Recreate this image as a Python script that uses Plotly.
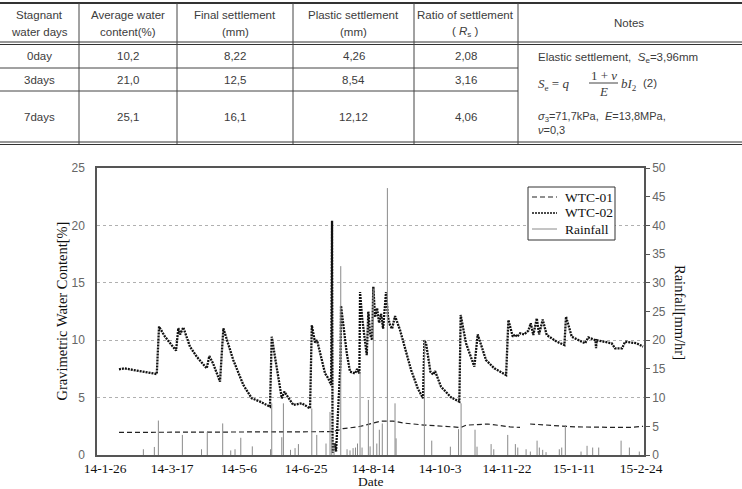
import plotly.graph_objects as go

# ---------------- table data ----------------
header_line1 = ["Stagnant", "Average water", "Final settlement", "Plastic settlement", "Ratio of settlement", "Notes"]
header_line2 = ["water days", "content(%)", "(mm)", "(mm)", "( <i>R</i><sub>s</sub> )", ""]
stagnant_days = ["0day", "3days", "7days"]
avg_water = ["10,2", "21,0", "25,1"]
final_settlement = ["8,22", "12,5", "16,1"]
plastic_settlement = ["4,26", "8,54", "12,12"]
ratio_settlement = ["2,08", "3,16", "4,06"]

# ---------------- chart data (x = days since 14-1-26) ----------------
tick_days = [0, 50, 100, 150, 200, 250, 300, 350, 400]
tick_labels = ["14-1-26", "14-3-17", "14-5-6", "14-6-25", "14-8-14", "14-10-3", "14-11-22", "15-1-11", "15-2-24"]

wtc02_day = [10.4, 14.2, 38.6, 40.3, 44.8, 53.0, 54.7, 56.0, 58.4, 63.4, 68.4, 75.9, 77.8, 80.6, 85.8,
             88.3, 95.7, 103.2, 109.5, 115.7, 123.1, 124.4, 127.6, 131.9, 133.8, 140.5, 146.8, 153.0,
             154.3, 156.7, 158.2, 164.2, 166.6, 168.7, 169.4, 169.8, 171.6, 172.4, 175.7, 176.1, 180.4,
             182.8, 186.6, 188.1, 189.8, 190.3, 191.8, 193.3, 195.3, 196.5, 197.8, 199.3, 200.2, 201.5,
             203.0, 204.5, 206.0, 207.5, 208.6, 209.7, 211.2, 212.7, 214.2, 216.4, 220.1, 223.1, 228.4,
             233.4, 237.3, 238.3, 239.6, 242.8, 244.8, 246.3, 250.7, 258.2, 264.4, 265.4, 269.4, 275.6,
             278.1, 284.3, 290.5, 299.3, 301.0, 304.3, 306.0, 307.5, 309.7, 312.7, 315.9, 317.7, 319.6,
             322.2, 323.9, 326.6, 329.6, 337.1, 342.8, 344.0, 348.3, 358.2, 360.7, 366.0, 366.4, 366.9,
             378.1, 380.6, 385.8, 388.1, 396.8, 401.5]
wtc02_val = [7.46, 7.55, 7.05, 11.18, 10.3, 9.09, 11.06, 10.5, 11.12, 9.43, 8.57, 7.55, 8.62, 7.98, 6.39,
             11.03, 8.27, 6.1, 4.94, 4.65, 4.21, 10.3, 7.98, 4.94, 5.52, 4.36, 4.5, 4.06,
             11.3, 9.8, 10.0, 7.1, 6.68, 6.1, 20.4, 0.2, 1.0, 0.3, 8.0, 13.0, 8.86,
             7.26, 7.1, 7.5, 7.1, 14.2, 12.0, 10.5, 8.7, 12.5, 10.5, 10.0, 14.66, 12.0,
             12.8, 11.5, 12.3, 11.0, 12.5, 14.2, 12.0, 11.3, 11.0, 12.1, 10.9, 9.7, 7.4,
             5.8, 4.94, 10.0, 9.7, 7.26, 7.0, 7.3, 5.95, 5.02, 4.65, 12.2, 9.73, 7.69,
             10.5, 8.27, 7.55, 6.97, 11.76, 10.3, 10.5, 10.3, 10.6, 10.5, 10.83, 11.47, 10.45,
             11.9, 10.5, 11.8, 10.45, 9.87, 9.58, 12.05, 10.3, 9.73, 10.25, 10.0, 9.3, 10.0,
             9.73, 9.29, 9.29, 9.87, 9.73, 9.44]

wtc01_day = [10.4, 167.9, 173.9, 177.6, 188.8, 200.0, 206.0, 214.9, 223.1, 238.1, 262.7, 265.7, 269.4,
             285.8, 302.2, 309.7, None, 317.2, 332.1, 350.7, 376.9, 391.8, 401.5]
wtc01_val = [1.97, 2.03, 2.15, 2.3, 2.45, 2.76, 2.95, 2.95, 2.78, 2.61, 2.47, 2.4, 2.6,
             2.7, 2.45, 2.4, None, 2.7, 2.6, 2.45, 2.41, 2.4, 2.5]

rain_day = [28.6, 36.8, 39.8, 57.7, 72.0, 76.3, 87.8, 93.8, 97.0, 101.3, 109.9, 123.5, 124.4, 131.9,
            133.1, 138.4, 141.8, 144.3, 154.3, 158.0, 164.9, 167.9, 169.2, 170.9, 175.9, 180.6, 182.8,
            185.1, 186.9, 188.4, 190.3, 191.8, 196.5, 197.8, 200.2, 202.8, 204.7, 206.9, 210.7, 216.4,
            217.2, 238.3, 243.8, 257.7, 263.8, 265.7, 276.1, 277.6, 288.1, 290.1, 300.5, 306.2, 308.0,
            314.2, 317.4, 322.4, 324.1, 326.6, 329.1, 339.0, 340.8, 343.5, 355.2, 359.7, 363.9, 368.4,
            385.1, 391.3, 398.7]
rain_val = [1.0, 1.4, 6.0, 3.5, 1.0, 4.0, 5.5, 0.8, 1.0, 3.0, 1.5, 1.0, 9.0, 3.1,
            9.0, 0.9, 1.2, 1.9, 8.1, 3.5, 2.0, 7.5, 3.0, 1.5, 32.9, 1.0, 0.8,
            1.2, 1.3, 2.0, 14.5, 1.3, 9.6, 1.5, 29.0, 2.0, 4.4, 5.5, 46.5, 9.0,
            2.9, 20.0, 2.5, 1.45, 4.5, 9.0, 4.4, 1.45, 1.9, 1.0, 3.5, 1.9, 1.3,
            1.0, 0.6, 2.5, 1.3, 0.9, 0.5, 1.0, 1.3, 5.2, 0.6, 1.6, 1.3, 1.3,
            2.5, 1.3, 0.6]

series_names = ["WTC-01", "WTC-02", "Rainfall"]

W, H = 742, 489
def px(x):
    return x / W
def py(y):
    return 1 - y / H

SERIF = "Liberation Serif, Times New Roman, serif"
SANS = "Liberation Sans, Arial, sans-serif"

styles = [dict(color="#222", width=1.2, dash="5px,3px"),
          dict(color="#111", width=2.3, dash="2px,1px"),
          dict(color="#8a8a8a", width=1)]

# rainfall drawn as vertical sticks from 0
rx, ry = [], []
for d, v in zip(rain_day, rain_val):
    rx += [d, d, None]
    ry += [0, v, None]

fig = go.Figure()
fig.add_trace(go.Scatter(x=wtc01_day, y=wtc01_val, mode="lines", name=series_names[0],
                         line=styles[0], connectgaps=False))
fig.add_trace(go.Scatter(x=wtc02_day, y=wtc02_val, mode="lines", name=series_names[1], line=styles[1]))
fig.add_trace(go.Scatter(x=rx, y=ry, mode="lines", name=series_names[2], yaxis="y2",
                         line=styles[2], connectgaps=False))

shapes = []
line_col = "#444"
# table horizontal lines
for y, w in [(3, 2), (42, 1), (44.5, 1), (142, 1), (144.5, 1)]:
    shapes.append(dict(type="line", xref="paper", yref="paper", x0=0, x1=1, y0=py(y), y1=py(y),
                       line=dict(color="#333", width=w)))
for y in [68, 91]:
    shapes.append(dict(type="line", xref="paper", yref="paper", x0=0, x1=px(518), y0=py(y), y1=py(y),
                       line=dict(color=line_col, width=1)))
col_edges = [0, 79, 177, 293, 414, 518, 742]
for x in col_edges[1:-1]:
    shapes.append(dict(type="line", xref="paper", yref="paper", x0=px(x), x1=px(x), y0=py(3), y1=py(144),
                       line=dict(color=line_col, width=1)))
# fraction bar in formula
shapes.append(dict(type="line", xref="paper", yref="paper", x0=px(589), x1=px(618), y0=py(83), y1=py(83),
                   line=dict(color="#444", width=1)))

# legend box (drawn by hand to match compact original)
shapes.append(dict(type="rect", xref="paper", yref="paper", x0=px(528), x1=px(615), y0=py(240), y1=py(187),
                   line=dict(color="#333", width=1), fillcolor="white", layer="above"))
leg_y = [197, 213, 229]
for i, st in enumerate(styles):
    shapes.append(dict(type="line", xref="paper", yref="paper", x0=px(532), x1=px(557),
                       y0=py(leg_y[i]), y1=py(leg_y[i]), layer="above",
                       line=dict(color=st["color"], width=min(st["width"], 1.5), dash=st.get("dash", "solid"))))

ann = []
tfont = dict(family=SANS, size=11.5, color="#3c3c3c")
centers = [(col_edges[i] + col_edges[i + 1]) / 2 for i in range(6)]
centers[5] = 629
for i in range(6):
    if header_line2[i]:
        ann.append(dict(x=px(centers[i]), y=py(15), text=header_line1[i], font=tfont))
        ann.append(dict(x=px(centers[i]), y=py(32), text=header_line2[i], font=tfont))
    else:
        ann.append(dict(x=px(centers[i]), y=py(23), text=header_line1[i], font=tfont))
row_y = [56, 80, 117]
cols = [stagnant_days, avg_water, final_settlement, plastic_settlement, ratio_settlement]
for ci, col in enumerate(cols):
    for ri, val in enumerate(col):
        ann.append(dict(x=px(centers[ci]), y=py(row_y[ri]), text=val, font=tfont))

mfont = dict(family=SERIF, size=13, color="#3c3c3c")
nfont = dict(family=SANS, size=11, color="#3c3c3c")
notes_left = 536
ann.append(dict(x=px(notes_left), y=py(58), xanchor="left", font=tfont,
                text="Elastic settlement,  <i>S</i><sub>e</sub>=3,96mm"))
ann.append(dict(x=px(notes_left), y=py(84), xanchor="left", font=mfont,
                text="<i>S</i><sub>e</sub> = <i>q</i>"))
ann.append(dict(x=px(603.5), y=py(75), font=mfont, text="1 + <i>ν</i>"))
ann.append(dict(x=px(603.5), y=py(91), font=mfont, text="<i>E</i>"))
ann.append(dict(x=px(619), y=py(84), xanchor="left", font=mfont, text="<i>bI</i><sub>2</sub>"))
ann.append(dict(x=px(641), y=py(83), xanchor="left", font=tfont, text="(2)"))
ann.append(dict(x=px(notes_left), y=py(116.5), xanchor="left", font=nfont,
                text="<i>σ</i><sub>3</sub>=71,7kPa,  <i>E</i>=13,8MPa,"))
ann.append(dict(x=px(notes_left), y=py(130), xanchor="left", font=nfont, text="<i>ν</i>=0,3"))

# legend texts
for i, name in enumerate(series_names):
    ann.append(dict(x=px(563), y=py(leg_y[i]), xanchor="left", text=name,
                    font=dict(family=SERIF, size=13.5, color="#111")))

# axis titles
ann.append(dict(x=px(61), y=py(311.5), text="Gravimetric Water Content[%]", textangle=-90,
                font=dict(family=SERIF, size=14.5, color="#111")))
ann.append(dict(x=px(680), y=py(312), text="Rainfall[mm/hr]", textangle=90,
                font=dict(family=SERIF, size=14.5, color="#111")))
ann.append(dict(x=px(370), y=py(481.5), text="Date", borderpad=0,
                font=dict(family=SERIF, size=13.5, color="#111")))

for a in ann:
    a.setdefault("xref", "paper")
    a.setdefault("yref", "paper")
    a.setdefault("xanchor", "center")
    a.setdefault("yanchor", "middle")
    a.setdefault("showarrow", False)

fig.update_layout(
    width=W, height=H, margin=dict(l=0, r=0, t=0, b=0),
    paper_bgcolor="white", plot_bgcolor="white",
    showlegend=False,
    xaxis=dict(domain=[px(97), px(644)], range=[-6, 402.2], tickvals=tick_days, ticktext=tick_labels,
               showgrid=False, zeroline=False, showline=True, linecolor="#555", linewidth=1.5, mirror=True,
               ticks="", tickfont=dict(family=SERIF, size=13.5, color="#111"), automargin=False),
    yaxis=dict(domain=[py(455), py(168)], range=[0, 25], dtick=5, showgrid=True, gridcolor="#b0b0b0",
               griddash="dot", gridwidth=1, zeroline=False, showline=True, linecolor="#555", linewidth=1.5,
               ticks="", ticklabelstandoff=8, tickfont=dict(family=SANS, size=12, color="#666"),
               automargin=False),
    yaxis2=dict(overlaying="y", side="right", range=[0, 50], dtick=5, showgrid=False, zeroline=False,
                showline=True, linecolor="#555", linewidth=1.5, ticks="outside", ticklen=4, tickwidth=1,
                tickcolor="#555", tickfont=dict(family=SANS, size=12, color="#666"), automargin=False),
    shapes=shapes, annotations=ann,
)

fig.write_html("out.html")
